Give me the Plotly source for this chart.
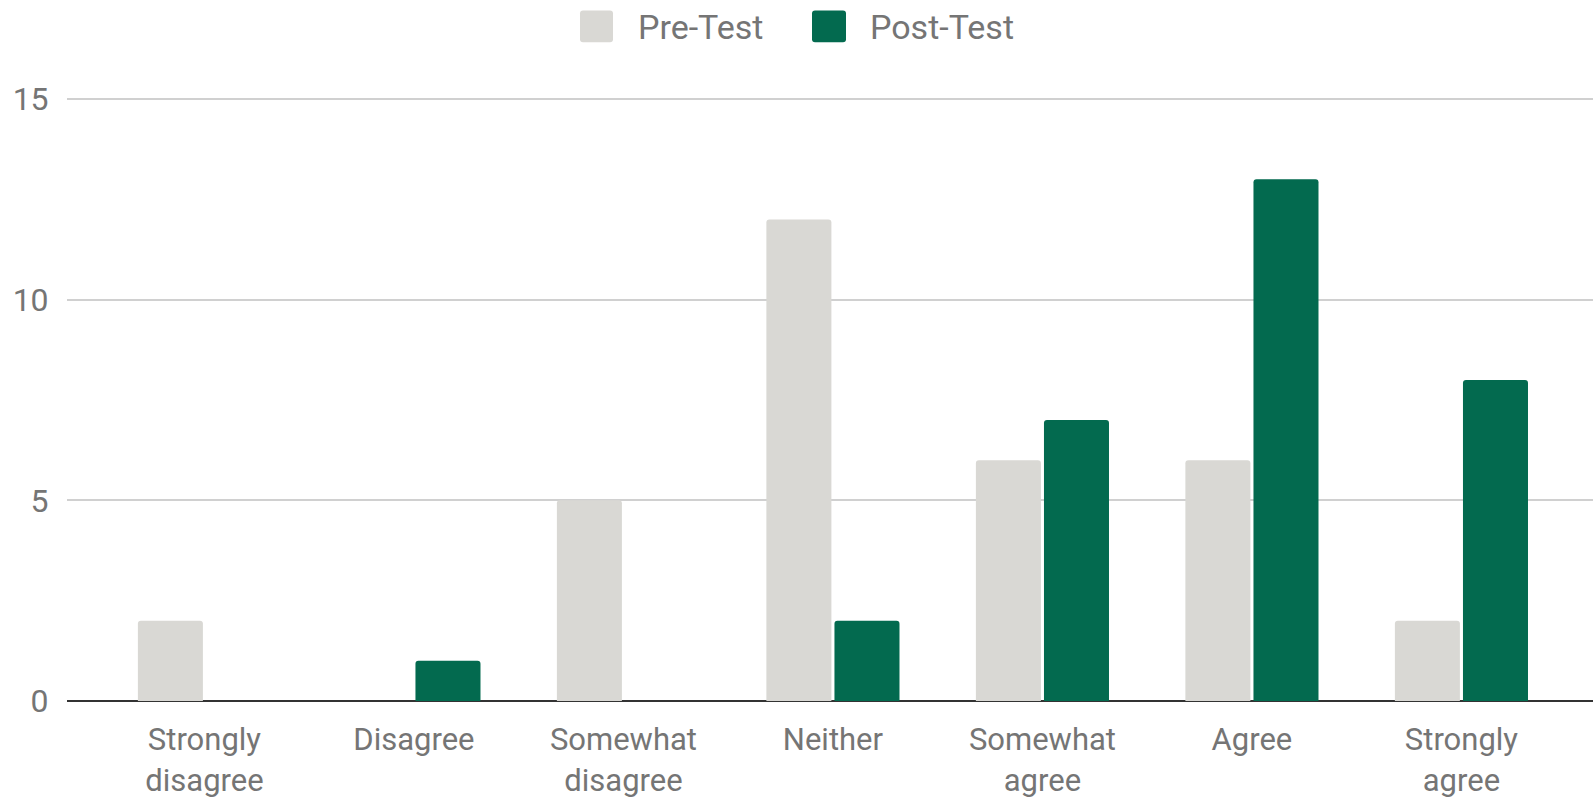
import plotly.graph_objects as go

categories = ["Strongly<br>disagree", "Disagree", "Somewhat<br>disagree", "Neither",
              "Somewhat<br>agree", "Agree", "Strongly<br>agree"]
pre_test = [2, 0, 5, 12, 6, 6, 2]
post_test = [0, 1, 0, 2, 7, 13, 8]
series_names = ["Pre-Test", "Post-Test"]
y_ticks = [0, 5, 10, 15]

PRE_COLOR = "#d9d8d4"
POST_COLOR = "#036a4f"
TEXT_COLOR = "#757575"
FONT = "Roboto"

W, H = 1593, 799
L, R, T, B = 67, 0, 89, 94
PW = W - L - R
PH = H - T - B

fig = go.Figure()
fig.add_trace(go.Bar(x=categories, y=pre_test, name=series_names[0],
                     marker=dict(color=PRE_COLOR, cornerradius=3, line=dict(width=0)),
                     showlegend=False))
fig.add_trace(go.Bar(x=categories, y=post_test, name=series_names[1],
                     marker=dict(color=POST_COLOR, cornerradius=3, line=dict(width=0)),
                     showlegend=False))


def px_x(p):
    return (p - L) / PW


def px_y(p):
    return (H - B - p) / PH


def rounded_rect(x0, y0, x1, y1, r):
    rx = r / PW
    ry = r / PH
    X0, X1 = px_x(x0), px_x(x1)
    Y0, Y1 = px_y(y1), px_y(y0)
    return (f"M {X0+rx},{Y0} L {X1-rx},{Y0} Q {X1},{Y0} {X1},{Y0+ry} "
            f"L {X1},{Y1-ry} Q {X1},{Y1} {X1-rx},{Y1} "
            f"L {X0+rx},{Y1} Q {X0},{Y1} {X0},{Y1-ry} "
            f"L {X0},{Y0+ry} Q {X0},{Y0} {X0+rx},{Y0} Z")


legend_items = [
    (series_names[0], PRE_COLOR, 580, 613, 636),
    (series_names[1], POST_COLOR, 812, 846, 868),
]
shapes = []
annotations = []
for name, color, sx0, sx1, tx in legend_items:
    shapes.append(dict(type="path", xref="paper", yref="paper",
                       path=rounded_rect(sx0, 10, sx1, 42, 3),
                       fillcolor=color, line=dict(width=0)))
    annotations.append(dict(text=name, xref="paper", yref="paper",
                            x=px_x(tx), y=px_y(27), xanchor="left", yanchor="middle",
                            showarrow=False,
                            font=dict(family=FONT, size=34, color=TEXT_COLOR)))

fig.update_layout(
    width=W, height=H,
    margin=dict(l=L, r=R, t=T, b=B, pad=0),
    paper_bgcolor="white", plot_bgcolor="white",
    barmode="group", bargap=0.35, bargroupgap=0.045,
    font=dict(family=FONT, size=32, color=TEXT_COLOR),
    showlegend=False,
    shapes=shapes,
    annotations=annotations,
    xaxis=dict(range=[-0.656, 6.628], showgrid=False, zeroline=False,
               showline=False, ticks="outside", ticklen=11,
               tickcolor="rgba(0,0,0,0)",
               tickfont=dict(family=FONT, size=31, color=TEXT_COLOR)),
    yaxis=dict(range=[0, 15.25], tickvals=y_ticks, showgrid=True,
               gridcolor="#d0d0d0", gridwidth=2,
               zeroline=True, zerolinecolor="#333333", zerolinewidth=2,
               showline=False, ticks="outside", ticklen=11,
               tickcolor="rgba(0,0,0,0)",
               tickfont=dict(family=FONT, size=32, color=TEXT_COLOR)),
)

fig.write_html("out.html",
               config={"displayModeBar": False},
               post_script="document.body.style.margin='0';"
                           "document.body.style.overflow='hidden';")
